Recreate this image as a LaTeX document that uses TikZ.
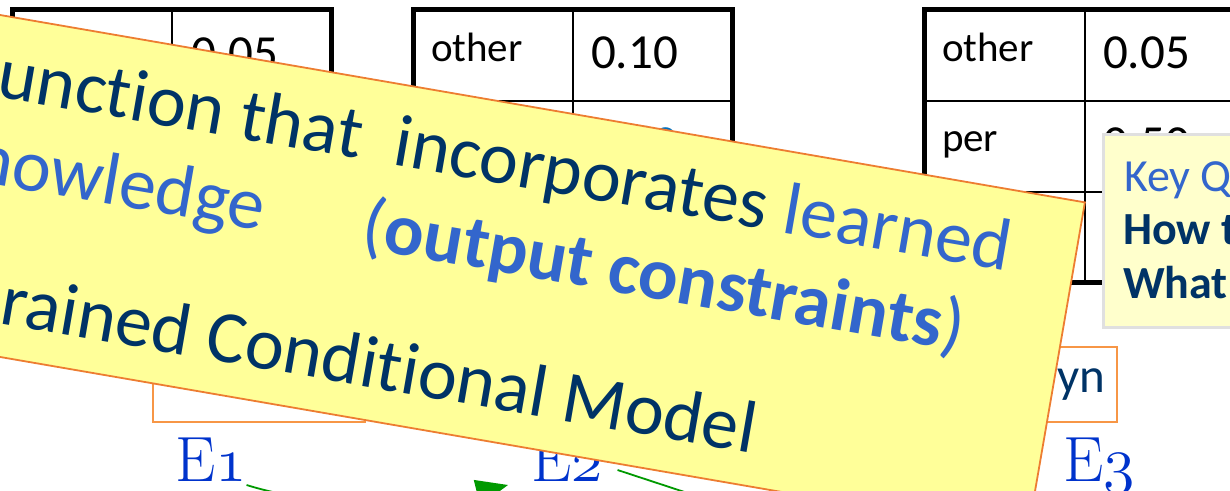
\RequirePackage{fix-cm}
\documentclass[tikz,border=0pt]{standalone}
\usepackage{fontspec}
\usepackage{xcolor}
\usetikzlibrary{positioning,arrows.meta}
\newfontfamily\slidefont[RawFeature={-liga;-clig;-calt}]{Carlito}

\definecolor{navy}{RGB}{0,51,102}
\definecolor{lblue}{RGB}{51,102,204}
\definecolor{vblue}{RGB}{0,112,192}
\definecolor{eblue}{RGB}{0,51,204}
\definecolor{noteyellow}{RGB}{255,255,153}
\definecolor{keyyellow}{RGB}{255,255,204}
\definecolor{edgeorange}{RGB}{237,125,49}
\definecolor{boxorange}{RGB}{247,150,70}
\definecolor{flowgreen}{RGB}{0,153,0}

\begin{document}
\begin{tikzpicture}[x=0.5pt,y=0.5pt]
  \tikzstyle{every node}=[inner sep=0pt, outer sep=0pt]
  \tikzstyle{tabframe}=[line width=2.5pt]
  \tikzstyle{tabrule}=[line width=1pt]
  \tikzstyle{celllab}=[anchor=base west, font=\slidefont\fontsize{20.5}{24}\selectfont]
  \tikzstyle{cellval}=[anchor=base west, font=\slidefont\fontsize{24.5}{29}\selectfont]
  \tikzstyle{obox}=[draw=boxorange, line width=1pt, minimum width=106pt, minimum height=37.5pt]
  \tikzstyle{boxtext}=[text=navy, font=\slidefont\fontsize{24.5}{29}\selectfont]
  \tikzstyle{elabel}=[anchor=base west, text=eblue, font=\fontsize{32}{38}\selectfont]
  \tikzstyle{flow}=[draw=flowgreen, line width=0.9pt, -{Triangle[length=16pt, width=13pt]}]
  \tikzstyle{notebox}=[draw=edgeorange, fill=noteyellow, line width=0.9pt]
  \tikzstyle{notetext}=[transform shape, text=navy, font=\slidefont\fontsize{37}{44}\selectfont]
  \tikzstyle{keybox}=[draw=black!12, fill=keyyellow, line width=1.5pt]
  \tikzstyle{keytext}=[anchor=base west, font=\slidefont\fontsize{23}{27}\selectfont]
  % \draw [step=50, blue!30] (0,0) grid (1230,491);
  \useasboundingbox (0,0) rectangle (1230,491);
  \clip (0,0) rectangle (1230,491);

  % the three tables
  \foreach \l/\m/\r in {12/172/331, 413/573/732, 924/1085/1244} {
    \draw [tabrule] (\m,208) -- (\m,481);
    \draw [tabrule] (\l,390) -- (\r,390);
    \draw [tabrule] (\l,299) -- (\r,299);
    \draw [tabframe] (\l,208) rectangle (\r,481);
  }
  \node [cellval] (t1v1) at (191,421) {0.05};
  \node [celllab] (t2l1) at (431,429) {other};
  \node [cellval] (t2v1) at (591,422) {0.10};
  \node [cellval, text=vblue] (t2v2) at (591,331) {0.60};
  \node [celllab] (t3l1) at (942,429) {other};
  \node [cellval] (t3v1) at (1103,422) {0.05};
  \node [celllab] (t3l2) at (942,339) {per};
  \node [cellval] (t3v2) at (1103,331) {0.50};

  % words and entities
  \node [obox] (b1) at (259,106.5) {};
  \node [obox, minimum width=100.5pt] (b3) at (1016.5,106.5) {};
  \node [boxtext, anchor=base east] (b3t) at (1105,98) {yn};
  \node [elabel] (e1) at (175,9) {$\mathrm{E}\mathnormal{1}$};
  \node [elabel] (e2) at (531,9) {$\mathrm{E}\mathnormal{2}$};
  \node [elabel] (e3) at (1063,9) {$\mathrm{E}\mathnormal{3}$};
  \coordinate [below right = 30pt and 117pt of e2.base east] (r23);

  \draw [flow] ([yshift=-1.5pt]e1.base east) .. controls +(80,-25) and +(-80,-20) .. ([xshift=-11.5pt,yshift=-1.5pt]e2.base west);
  \draw [draw=flowgreen, line width=0.9pt] ([xshift=7.5pt,yshift=6pt]e2.base east) -- (r23);

  % key questions
  \draw [keybox] (1103,163) rectangle (1260,356);
  \node [keytext, text=lblue] (k1) at (1124,299) {Key Q};
  \node [keytext, text=navy, font=\slidefont\bfseries\fontsize{23}{27}\selectfont] (k2) at (1123,246) {How t};
  \node [keytext, text=navy, font=\slidefont\bfseries\fontsize{23}{27}\selectfont] (k3) at (1123,192) {What};

  % tilted note
  \begin{scope}[shift={(0,476)}, rotate=-9.8]
    \draw [notebox] (-300,0) rectangle (1101,-337);
    \node [notetext, anchor=base east] (m1) at (1036,-81) {unction that\ \ incorporates \textcolor{lblue}{learned}};
    \node [notetext, anchor=base east, text=lblue] (m2) at (294,-168) {nowledge};
    \node [notetext, anchor=base west, text=lblue] (m3) at (394,-168) {(\textbf{output constraints})};
    \node [notetext, anchor=base east] (m4) at (816,-304) {rained Conditional Model};
  \end{scope}
\end{tikzpicture}
\end{document}
